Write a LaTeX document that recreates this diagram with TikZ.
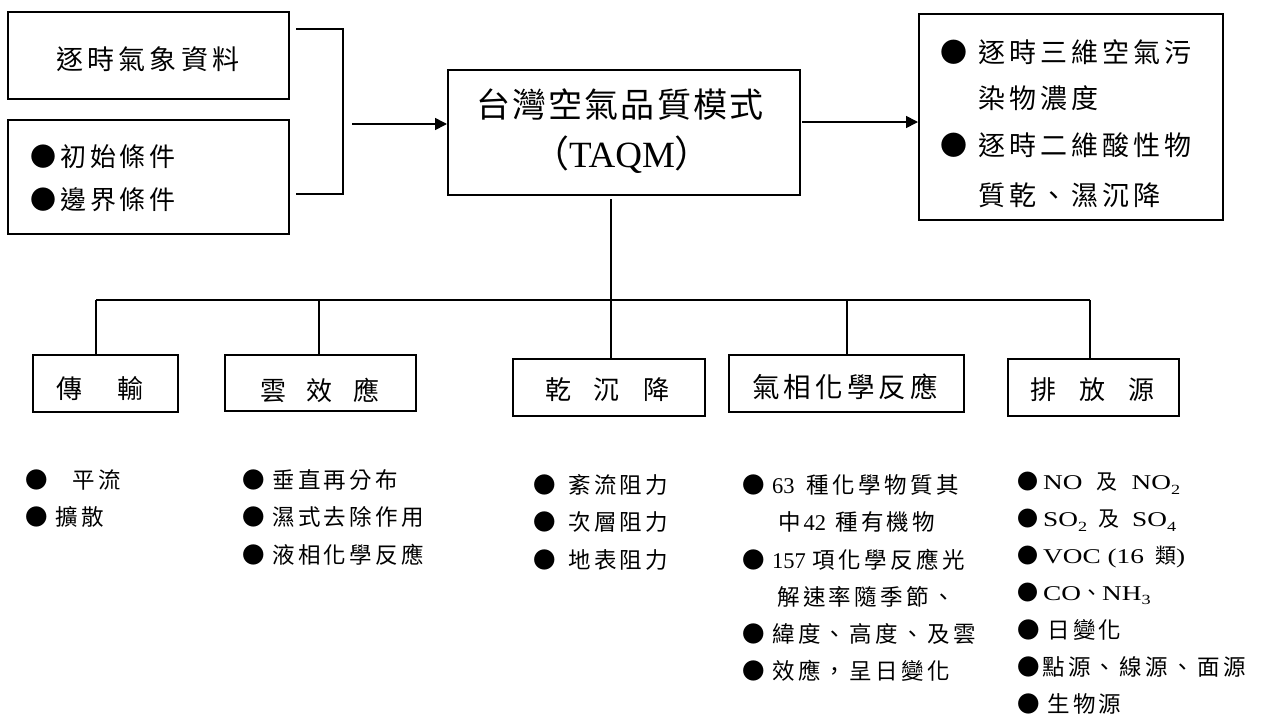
\documentclass[tikz,border=0pt]{standalone}
\usepackage{fontspec}
\setmainfont{Liberation Serif}
\newfontfamily\tnw[FakeStretch=1.3]{Liberation Serif}
\newfontfamily\cjk[LetterSpace=15]{Noto Sans CJK TC}
\newfontfamily\cjkt[LetterSpace=6]{Noto Sans CJK TC}
\newfontfamily\cjkn{Noto Sans CJK TC}
\usetikzlibrary{arrows.meta}
\newcommand\fs[1]{\fontsize{#1pt}{#1pt}\selectfont}
\newcommand\bul[1]{\makebox[#1pt][l]{\cjkn ●}}
\newcommand\sbs[1]{\raisebox{-0.22em}{\fontsize{14pt}{14pt}\selectfont #1}}
\tikzset{
  box/.style={draw, line width=1.8pt, inner sep=0pt, anchor=north west},
  txt/.style={inner sep=0pt, anchor=west},
  ctxt/.style={inner sep=0pt, anchor=center},
  conn/.style={line width=1.8pt},
  bus/.style={line width=2.4pt},
  arr/.style={line width=1.6pt, -{Triangle[length=12pt,width=12pt]}},
}
\begin{document}
\begin{tikzpicture}[x=1pt,y=-1pt]
\useasboundingbox (0,0) rectangle (1265,720);
% boxes
\node[box, minimum width=281pt, minimum height=87pt] (met) at (7,11) {};
\node[box, minimum width=281pt, minimum height=114pt] (ic) at (7,119) {};
\node[box, minimum width=352pt, minimum height=125pt] (taqm) at (447,69) {};
\node[box, minimum width=304pt, minimum height=206pt] (out) at (918,13) {};
\node[box, minimum width=145pt, minimum height=57pt] (trans) at (32,354) {};
\node[box, minimum width=191pt, minimum height=56pt] (cloud) at (224,354) {};
\node[box, minimum width=192pt, minimum height=57pt] (dry) at (512,358) {};
\node[box, minimum width=235pt, minimum height=57pt] (gas) at (728,354) {};
\node[box, minimum width=171pt, minimum height=57pt] (emis) at (1007,358) {};
% box texts
\node[ctxt] (t-met) at (148,59) {\cjk\fs{27}逐時氣象資料};
\node[txt] (t-ic1) at (30,157) {\fs{26}\bul{30}\cjk 初始條件};
\node[txt] (t-ic2) at (30,200) {\fs{26}\bul{30}\cjk 邊界條件};
\node[ctxt] (t-taqm1) at (620,105) {\cjkt\fs{34}台灣空氣品質模式};
\node[ctxt] (t-taqm2) at (622,155) {\fs{37}{\cjkn （}TAQM{\cjkn ）}};
\node[txt] (t-out1) at (940,52) {\fs{27}\bul{38}\cjk 逐時三維空氣污};
\node[txt] (t-out2) at (978,98) {\cjk\fs{27}染物濃度};
\node[txt] (t-out3) at (940,145) {\fs{27}\bul{38}\cjk 逐時二維酸性物};
\node[txt] (t-out4) at (978,195) {\cjk\fs{27}質乾、濕沉降};
\node[ctxt] (t-trans) at (100,389) {\cjkn\fs{26}傳\hspace{36pt}輸};
\node[ctxt] (t-cloud) at (320,390) {\cjkn\fs{26}雲\hspace{21pt}效\hspace{21pt}應};
\node[ctxt] (t-dry) at (607,390) {\cjkn\fs{26}乾\hspace{23pt}沉\hspace{23pt}降};
\node[ctxt] (t-gas) at (845,387) {\cjk\fs{27.5}氣相化學反應};
\node[ctxt] (t-emis) at (1092,390) {\cjkn\fs{26}排\hspace{23pt}放\hspace{23pt}源};
% connectors
\coordinate (bra-t) at (296,29);
\coordinate (bra-tr) at (343,29);
\coordinate (bra-br) at (343,194);
\coordinate (bra-b) at (296,194);
\draw[conn] (bra-t) -- (bra-tr) -- (bra-br) -- (bra-b);
\coordinate (in-s) at (352,124);
\draw[arr] (in-s) -- (in-s -| taqm.west);
\coordinate (out-s) at (802,122);
\draw[arr] (out-s) -- (out-s -| out.west);
\coordinate (bus-l) at (96,300);
\coordinate (bus-r) at (1090,300);
\coordinate (d2) at (319,300);
\coordinate (d4) at (847,300);
\coordinate (trunk) at (611,199);
\draw[bus] (bus-l) -- (bus-r);
\draw[conn] (bus-l) -- (bus-l |- trans.north);
\draw[conn] (d2) -- (d2 |- cloud.north);
\draw[conn] (trunk) -- (trunk |- dry.north);
\draw[conn] (d4) -- (d4 |- gas.north);
\draw[conn] (bus-r) -- (bus-r |- emis.north);
% lists
\node[txt] (l1a) at (25,480) {\fs{22.5}\bul{47}\cjk 平流};
\node[txt] (l1b) at (25,517) {\fs{22.5}\bul{30}\cjk 擴散};
\node[txt] (l2a) at (242,480) {\fs{22.5}\bul{30}\cjk 垂直再分布};
\node[txt] (l2b) at (242,517) {\fs{22.5}\bul{30}\cjk 濕式去除作用};
\node[txt] (l2c) at (242,555) {\fs{22.5}\bul{30}\cjk 液相化學反應};
\node[txt] (l3a) at (533,485) {\fs{22.5}\bul{35}\cjk 紊流阻力};
\node[txt] (l3b) at (533,522) {\fs{22.5}\bul{35}\cjk 次層阻力};
\node[txt] (l3c) at (533,560) {\fs{22.5}\bul{35}\cjk 地表阻力};
\node[txt] (l4a) at (742,485) {\fs{22.5}\bul{30}63\hspace{12pt}{\cjk 種化學物質其}};
\node[txt] (l4b) at (778,522) {\fs{22.5}{\cjk 中}\hspace{3pt}42\hspace{9pt}{\cjk 種有機物}};
\node[txt] (l4c) at (742,560) {\fs{22.5}\bul{30}157\hspace{7pt}{\cjk 項化學反應光}};
\node[txt] (l4d) at (777,597) {\fs{22.5}\cjk 解速率隨季節、};
\node[txt] (l4e) at (742,634) {\fs{22.5}\bul{30}\cjk 緯度、高度、及雲};
\node[txt] (l4f) at (742,671) {\fs{22.5}\bul{30}\cjk 效應，呈日變化};
\node[txt] (l5a) at (1017,483) {\fs{21}\bul{26}\tnw NO\hspace{14pt}{\cjkn 及}\hspace{14pt}NO\sbs{2}};
\node[txt] (l5b) at (1017,520) {\fs{21}\bul{26}\tnw SO\sbs{2}\hspace{11pt}{\cjkn 及}\hspace{13pt}SO\sbs{4}};
\node[txt] (l5c) at (1017,557) {\fs{21}\bul{26}\tnw VOC (16\hspace{11pt}{\cjkn 類})};
\node[txt] (l5d) at (1017,594) {\fs{21}\bul{26}\tnw CO{\cjkn 、}NH\sbs{3}};
\node[txt] (l5e) at (1017,630) {\fs{22.5}\bul{30}\cjk 日變化};
\node[txt] (l5f) at (1017,667) {\fs{22.5}\bul{25}\cjk 點源、線源、面源};
\node[txt] (l5g) at (1017,704) {\fs{22.5}\bul{30}\cjk 生物源};
\end{tikzpicture}
\end{document}
